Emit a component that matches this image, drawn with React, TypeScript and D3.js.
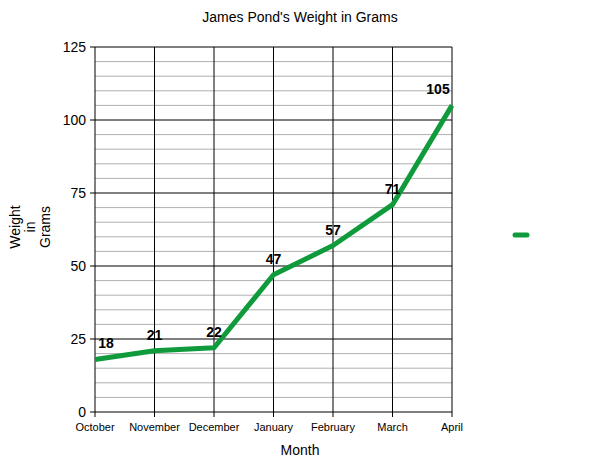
import React, { useEffect, useRef } from 'react';
import * as d3 from 'd3';

const months = ['October', 'November', 'December', 'January', 'February', 'March', 'April'];
const weights = [18, 21, 22, 47, 57, 71, 105];
const yTicks = [0, 25, 50, 75, 100, 125];

export default function App() {
  const ref = useRef<SVGSVGElement>(null);

  useEffect(() => {
    const svg = d3.select(ref.current);
    svg.selectAll('*').remove();

    const left = 95, right = 452, top = 47, bottom = 412;
    const font = 'Liberation Sans, Arial, sans-serif';

    const x = d3.scalePoint<string>().domain(months).range([left, right]);
    const y = d3.scaleLinear().domain([0, 125]).range([bottom, top]);

    // minor grid
    svg.append('g')
      .selectAll('line')
      .data(d3.range(0, 126, 5).filter(v => v % 25 !== 0))
      .enter()
      .append('line')
      .attr('x1', left).attr('x2', right)
      .attr('y1', d => y(d)).attr('y2', d => y(d))
      .attr('stroke', '#b0b0b0').attr('stroke-width', 1);

    // major grid
    svg.append('g')
      .selectAll('line')
      .data(yTicks)
      .enter()
      .append('line')
      .attr('x1', left - 5).attr('x2', right)
      .attr('y1', d => y(d)).attr('y2', d => y(d))
      .attr('stroke', '#000').attr('stroke-width', 1);

    svg.append('g')
      .selectAll('line')
      .data(months)
      .enter()
      .append('line')
      .attr('x1', d => x(d)!).attr('x2', d => x(d)!)
      .attr('y1', top).attr('y2', bottom + 5)
      .attr('stroke', '#000').attr('stroke-width', 1);

    // y tick labels
    svg.append('g')
      .selectAll('text')
      .data(yTicks)
      .enter()
      .append('text')
      .attr('x', left - 9)
      .attr('y', d => y(d) + 5)
      .attr('text-anchor', 'end')
      .style('font-family', font)
      .style('font-size', '14px')
      .text(d => d);

    // x tick labels
    svg.append('g')
      .selectAll('text')
      .data(months)
      .enter()
      .append('text')
      .attr('x', d => x(d)!)
      .attr('y', 431)
      .attr('text-anchor', 'middle')
      .style('font-family', font)
      .style('font-size', '11px')
      .text(d => d);

    const line = d3.line<number>()
      .x((_, i) => x(months[i])!)
      .y(d => y(d));

    svg.append('path')
      .datum(weights)
      .attr('fill', 'none')
      .attr('stroke', '#0f9a3c')
      .attr('stroke-width', 5)
      .attr('stroke-linejoin', 'round')
      .attr('d', line);

    // value labels
    svg.append('g')
      .selectAll('text')
      .data(weights)
      .enter()
      .append('text')
      .attr('x', (_, i) => Math.min(Math.max(x(months[i])!, left + 11), right - 14))
      .attr('y', d => y(d) - 11)
      .attr('text-anchor', 'middle')
      .style('font-family', font)
      .style('font-size', '14px')
      .style('font-weight', 'bold')
      .text(d => d);

    // title
    svg.append('text')
      .attr('x', 300).attr('y', 22)
      .attr('text-anchor', 'middle')
      .style('font-family', font)
      .style('font-size', '14px')
      .text("James Pond's Weight in Grams");

    // axis titles
    svg.append('text')
      .attr('x', 300).attr('y', 455)
      .attr('text-anchor', 'middle')
      .style('font-family', font)
      .style('font-size', '14px')
      .text('Month');

    const yTitle = svg.append('text')
      .attr('transform', 'translate(20,227) rotate(-90)')
      .attr('text-anchor', 'middle')
      .style('font-family', font)
      .style('font-size', '14px');
    ['Weight', 'in', 'Grams'].forEach((t, i) => {
      yTitle.append('tspan').attr('x', 0).attr('dy', i === 0 ? 0 : 15).text(t);
    });

    // legend
    svg.append('line')
      .attr('x1', 515).attr('x2', 527)
      .attr('y1', 235).attr('y2', 235)
      .attr('stroke', '#0f9a3c')
      .attr('stroke-width', 5)
      .attr('stroke-linecap', 'round');
  }, []);

  return (
    <svg
      ref={ref}
      width={600}
      height={463}
      style={{ position: 'absolute', left: 0, top: 0, background: '#fff' }}
    ></svg>
  );
}
